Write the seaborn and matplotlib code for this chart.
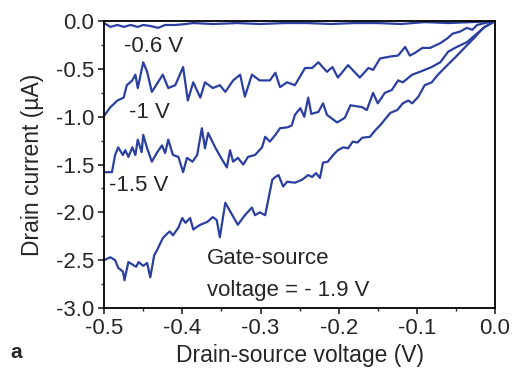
import numpy as np
import pandas as pd
import seaborn as sns
import matplotlib.pyplot as plt
from matplotlib.ticker import MultipleLocator

#### DATA ####
# drain-source voltage (V) and drain current (uA) for each gate-source voltage
vds_06 = [-0.500, -0.492, -0.483, -0.475, -0.466, -0.457, -0.450, -0.441, -0.431, -0.422,
          -0.409, -0.396, -0.386, -0.360, -0.330, -0.300, -0.270, -0.240, -0.210, -0.180,
          -0.150, -0.120, -0.090, -0.060, -0.030, 0.0]
id_06 = [-0.02, -0.06, -0.04, -0.06, -0.04, -0.06, -0.04, -0.05, -0.07, -0.04,
         -0.04, -0.03, -0.02, -0.03, -0.02, -0.03, -0.02, -0.02, -0.03, -0.02,
         -0.02, -0.03, -0.01, -0.02, -0.01, 0.0]

vds_1 = [-0.500, -0.492, -0.483, -0.475, -0.471, -0.464, -0.460, -0.457, -0.450, -0.445,
         -0.439, -0.432, -0.425, -0.418, -0.409, -0.399, -0.393, -0.386, -0.377, -0.371,
         -0.361, -0.352, -0.345, -0.335, -0.326, -0.320, -0.311, -0.301, -0.288, -0.281,
         -0.275, -0.266, -0.256, -0.243, -0.234, -0.226, -0.215, -0.208, -0.201, -0.188,
         -0.173, -0.162, -0.156, -0.147, -0.134, -0.124, -0.115, -0.109, -0.102, -0.093,
         -0.083, -0.070, -0.061, -0.054, -0.045, -0.036, -0.029, -0.023, -0.013, 0.0]
id_1 = [-0.99, -0.90, -0.83, -0.80, -0.67, -0.62, -0.56, -0.70, -0.43, -0.53,
        -0.74, -0.65, -0.56, -0.70, -0.67, -0.48, -0.83, -0.64, -0.80, -0.64,
        -0.70, -0.67, -0.74, -0.62, -0.56, -0.79, -0.56, -0.62, -0.62, -0.54,
        -0.69, -0.64, -0.67, -0.49, -0.49, -0.43, -0.53, -0.48, -0.59, -0.46,
        -0.59, -0.49, -0.51, -0.39, -0.37, -0.36, -0.27, -0.36, -0.33, -0.28,
        -0.28, -0.23, -0.18, -0.13, -0.11, -0.07, -0.09, -0.04, -0.02, 0.0]

vds_15 = [-0.500, -0.490, -0.486, -0.482, -0.476, -0.473, -0.469, -0.464, -0.460, -0.457,
          -0.452, -0.450, -0.445, -0.439, -0.432, -0.426, -0.422, -0.418, -0.412, -0.405,
          -0.399, -0.394, -0.387, -0.381, -0.375, -0.371, -0.367, -0.358, -0.349, -0.343,
          -0.339, -0.335, -0.329, -0.322, -0.316, -0.307, -0.298, -0.294, -0.288, -0.281,
          -0.275, -0.265, -0.260, -0.256, -0.249, -0.244, -0.239, -0.235, -0.226, -0.220,
          -0.215, -0.202, -0.192, -0.185, -0.170, -0.164, -0.156, -0.150, -0.141, -0.132,
          -0.124, -0.118, -0.106, -0.096, -0.081, -0.070, -0.060, -0.049, -0.036, -0.026,
          -0.013, 0.0]
id_15 = [-1.58, -1.58, -1.40, -1.32, -1.40, -1.35, -1.42, -1.32, -1.40, -1.24,
         -1.37, -1.19, -1.33, -1.47, -1.37, -1.30, -1.38, -1.24, -1.40, -1.42,
         -1.58, -1.43, -1.47, -1.40, -1.12, -1.33, -1.17, -1.32, -1.45, -1.53,
         -1.35, -1.47, -1.43, -1.50, -1.42, -1.40, -1.32, -1.21, -1.26, -1.19,
         -1.12, -1.11, -1.09, -0.98, -0.91, -1.00, -0.80, -0.97, -0.95, -0.86,
         -0.98, -1.06, -1.01, -0.88, -0.90, -0.93, -0.75, -0.86, -0.75, -0.72,
         -0.62, -0.64, -0.56, -0.53, -0.48, -0.43, -0.32, -0.27, -0.22, -0.15,
         -0.06, 0.0]

vds_19 = [-0.500, -0.492, -0.486, -0.482, -0.476, -0.474, -0.469, -0.463, -0.459, -0.456,
          -0.450, -0.445, -0.441, -0.436, -0.432, -0.425, -0.419, -0.416, -0.412, -0.405,
          -0.400, -0.396, -0.390, -0.386, -0.381, -0.377, -0.368, -0.361, -0.356, -0.352,
          -0.345, -0.336, -0.329, -0.320, -0.311, -0.307, -0.301, -0.294, -0.285, -0.281,
          -0.277, -0.271, -0.266, -0.256, -0.247, -0.239, -0.234, -0.229, -0.224, -0.220,
          -0.214, -0.207, -0.201, -0.194, -0.188, -0.182, -0.176, -0.170, -0.160, -0.153,
          -0.147, -0.141, -0.134, -0.125, -0.118, -0.111, -0.106, -0.098, -0.090, -0.081,
          -0.073, -0.061, -0.051, -0.038, -0.026, -0.015, 0.0]
id_19 = [-2.50, -2.47, -2.50, -2.58, -2.62, -2.71, -2.52, -2.55, -2.57, -2.52,
         -2.56, -2.53, -2.68, -2.45, -2.39, -2.27, -2.22, -2.20, -2.24, -2.16,
         -2.06, -2.11, -2.06, -2.18, -2.15, -2.13, -2.10, -2.05, -2.08, -2.26,
         -1.90, -2.03, -2.13, -2.03, -1.95, -2.03, -2.00, -2.03, -1.66, -1.63,
         -1.61, -1.73, -1.68, -1.69, -1.66, -1.61, -1.63, -1.59, -1.64, -1.48,
         -1.47, -1.40, -1.35, -1.32, -1.33, -1.26, -1.27, -1.22, -1.21, -1.14,
         -1.09, -1.03, -0.96, -0.93, -0.86, -0.83, -0.86, -0.79, -0.67, -0.64,
         -0.56, -0.46, -0.38, -0.27, -0.17, -0.07, 0.0]

curve_labels = ['-0.6 V', '-1 V', '-1.5 V', '-1.9 V']
curves = [(vds_06, id_06), (vds_1, id_1), (vds_15, id_15), (vds_19, id_19)]

#### PLOT ####
sns.set_style('ticks')
plt.rcParams['font.family'] = ['Liberation Sans', 'DejaVu Sans']

line_color = '#2b3fa0'

fig = plt.figure(figsize=(5.13, 3.71), dpi=100)
ax = fig.add_axes([0.203, 0.170, 0.762, 0.773])

for lab, (v, i) in zip(curve_labels, curves):
    df = pd.DataFrame({'Vds': v, 'Id': i})
    sns.lineplot(data=df, x='Vds', y='Id', color=line_color, linewidth=1.6,
                 estimator=None, sort=False, ax=ax)

ax.set_xlim(-0.5, 0.0)
ax.set_ylim(-3.0, 0.0)
ax.xaxis.set_major_locator(MultipleLocator(0.1))
ax.xaxis.set_minor_locator(MultipleLocator(0.05))
ax.yaxis.set_major_locator(MultipleLocator(0.5))
ax.yaxis.set_minor_locator(MultipleLocator(0.25))
ax.set_xticklabels([f'{t:.1f}' for t in ax.get_xticks()])
ax.set_yticklabels([f'{t:.1f}' for t in ax.get_yticks()])
ax.tick_params(which='major', direction='out', length=4.5, width=1.2, labelsize=16, pad=2.5)
ax.tick_params(which='minor', direction='out', length=2.2, width=1.0)
for s in ax.spines.values():
    s.set_linewidth(1.3)
    s.set_color('black')

ax.set_xlabel('Drain-source voltage (V)', fontsize=16.5, labelpad=4)
ax.set_ylabel('Drain current (µA)', fontsize=16.5, labelpad=9)

ax.text(-0.474, -0.27, '-0.6 V', fontsize=16, ha='left', va='center')
ax.text(-0.468, -0.96, '-1 V', fontsize=16, ha='left', va='center')
ax.text(-0.494, -1.72, '-1.5 V', fontsize=16, ha='left', va='center')
ax.text(-0.368, -2.48, 'Gate-source', fontsize=16, ha='left', va='center')
ax.text(-0.368, -2.82, 'voltage = - 1.9 V', fontsize=16, ha='left', va='center')
fig.text(0.02, 0.05, 'a', fontsize=15, fontweight='bold', ha='left', va='center')

plt.savefig('out.png', dpi=100)
plt.close()
